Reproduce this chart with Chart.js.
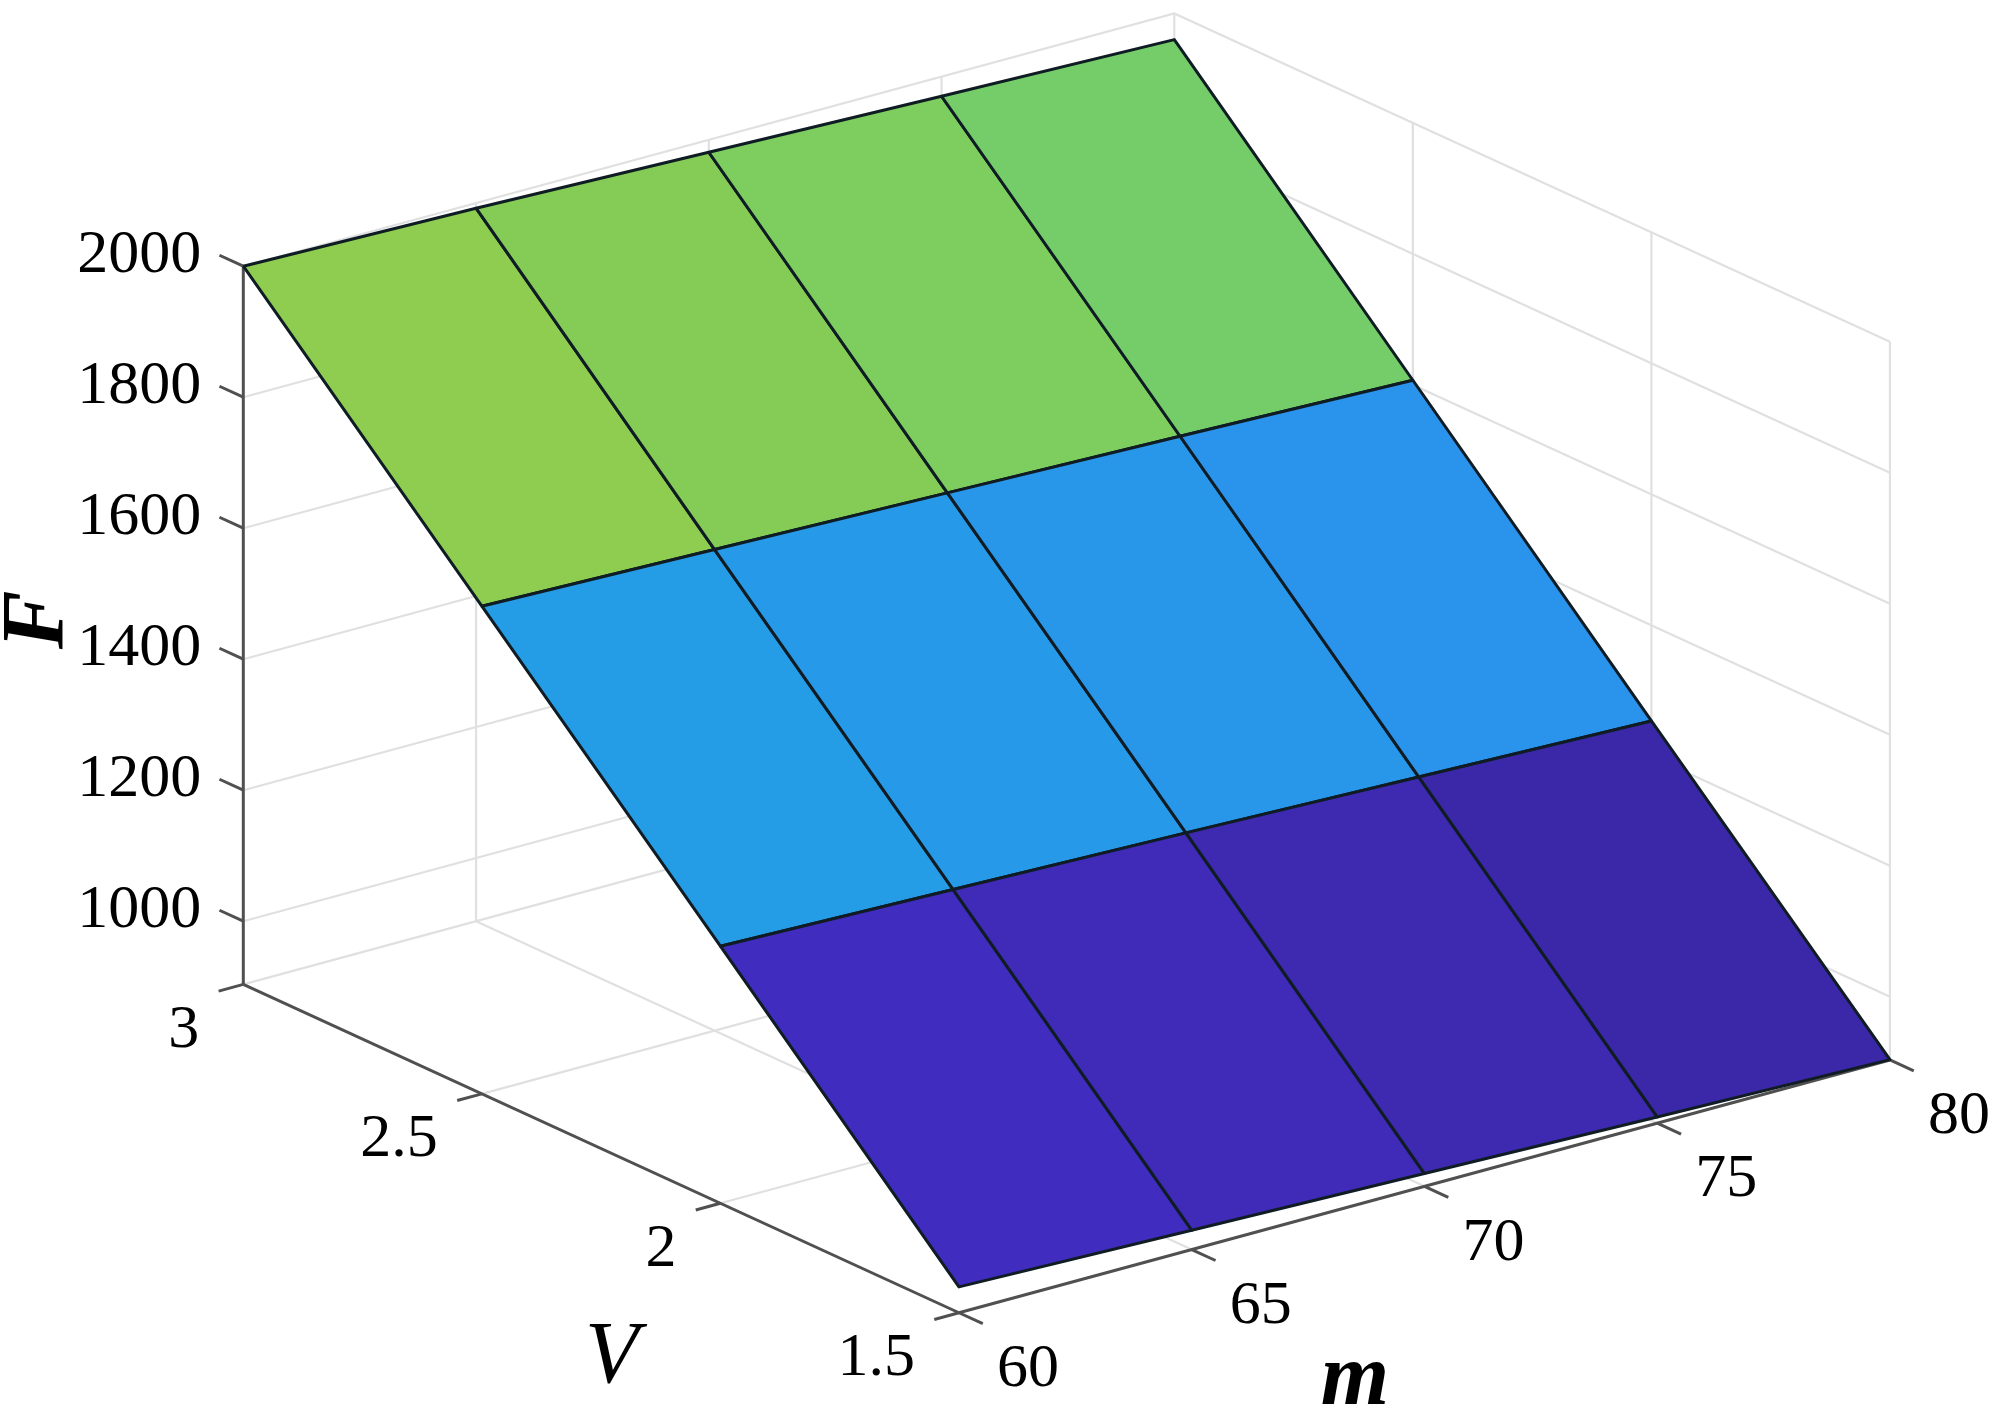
<!DOCTYPE html>
<html>
<head>
<meta charset="utf-8">
<title>F over m and V</title>
<script src="https://cdn.jsdelivr.net/npm/chart.js@4"></script>
<style>
html, body { margin: 0; padding: 0; background: #fff; }
#wrap { width: 2000px; height: 1408px; }
</style>
</head>
<body>
<div id="wrap"><canvas id="myChart"></canvas></div>
<script>
// surface samples
const mValues = [60, 65, 70, 75, 80]
const vValues = [3, 2.5, 2, 1.5]
const fAtV3 = [2000, 1992, 1981, 1970, 1960]
const fAtV25 = [1648, 1638, 1628, 1618, 1607]
const fAtV2 = [1296, 1286, 1276, 1265, 1254]
const fAtV15 = [943, 933, 923, 913, 904]
const fRows = [fAtV3, fAtV25, fAtV2, fAtV15]

// axis ticks
const fTicks = [1000, 1200, 1400, 1600, 1800, 2000]
const vTicks = [3, 2.5, 2, 1.5]
const mTicks = [60, 65, 70, 75, 80]
const vTickLabels = ['3', '2.5', '2', '1.5']
const fMin = 903.5
const fMax = 2000

// face colours, one row per V band
const colorsTop = ['#8ecd50', '#85cc57', '#7dcd5f', '#74cd69']
const colorsMid = ['#259de6', '#269ae8', '#2897ea', '#2a93ec']
const colorsLow = ['#402cbe', '#3f2bb8', '#3d2ab0', '#3b28a8']
const faceColors = [colorsTop, colorsMid, colorsLow]

// fixed view of the box: where (m=60, V=3, F=fMin) lands and the step per data unit
const view = { x0: 243.3, y0: 984.4, mx: 46.55, my: -12.64, vx: 477.1, vy: 218.9, fy: -0.655 }

function project(m, v, f) {
    return {
        x: view.x0 + (m - 60) * view.mx + (3 - v) * view.vx,
        y: view.y0 + (m - 60) * view.my + (3 - v) * view.vy + (f - fMin) * view.fy
    }
}

const GRID = '#e0e0e0'
const AXIS = '#505050'
const EDGE = '#101c24'

const datasets = []

function addLine(points, color, width) {
    datasets.push({
        data: points,
        showLine: true,
        fill: false,
        borderColor: color,
        borderWidth: width,
        pointRadius: 0,
        tension: 0,
        order: -datasets.length
    })
}

// grid on the two back walls
fTicks.forEach(function (f) {
    addLine([project(60, 3, f), project(80, 3, f), project(80, 1.5, f)], GRID, 2.2)
})
mTicks.slice(1).forEach(function (m) {
    addLine([project(m, 3, fMin), project(m, 3, fMax)], GRID, 2.2)
})
vTicks.slice(1).forEach(function (v) {
    addLine([project(80, v, fMin), project(80, v, fMax)], GRID, 2.2)
})
// grid on the floor
vTicks.slice(0, -1).forEach(function (v) {
    addLine([project(60, v, fMin), project(80, v, fMin)], GRID, 2.2)
})
mTicks.slice(1).forEach(function (m) {
    addLine([project(m, 3, fMin), project(m, 1.5, fMin)], GRID, 2.2)
})

// axis lines and tick marks
addLine([project(60, 3, fMin), project(60, 3, fMax)], AXIS, 3)
addLine([project(60, 3, fMin), project(60, 1.5, fMin)], AXIS, 3)
addLine([project(60, 1.5, fMin), project(80, 1.5, fMin)], AXIS, 3)
fTicks.forEach(function (f) {
    addLine([project(60, 3, f), project(60, 3.05, f)], AXIS, 3)
})
vTicks.forEach(function (v) {
    addLine([project(60, v, fMin), project(59.47, v, fMin)], AXIS, 3)
})
mTicks.forEach(function (m) {
    addLine([project(m, 1.5, fMin), project(m, 1.45, fMin)], AXIS, 3)
})

// surface faces
for (let r = 0; r < vValues.length - 1; r++) {
    for (let c = 0; c < mValues.length - 1; c++) {
        const a = project(mValues[c], vValues[r], fRows[r][c])
        const b = project(mValues[c + 1], vValues[r], fRows[r][c + 1])
        const d = project(mValues[c + 1], vValues[r + 1], fRows[r + 1][c + 1])
        const e = project(mValues[c], vValues[r + 1], fRows[r + 1][c])
        datasets.push({
            data: [a, b, d, e, a],
            showLine: true,
            fill: 'shape',
            backgroundColor: faceColors[r][c],
            borderColor: EDGE,
            borderWidth: 3,
            borderJoinStyle: 'round',
            pointRadius: 0,
            tension: 0,
            order: -datasets.length
        })
    }
}

// tick labels and axis titles, anchored on the scales
const boxLabels = {
    id: 'boxLabels',
    afterDraw: function (chart) {
        const ctx = chart.ctx
        const sx = chart.scales.x
        const sy = chart.scales.y
        const SERIF = '"Liberation Serif", "Times New Roman", serif'

        function put(text, p, dx, dy, align) {
            ctx.textAlign = align
            ctx.fillText(text, sx.getPixelForValue(p.x) + dx, sy.getPixelForValue(p.y) + dy)
        }

        ctx.save()
        ctx.fillStyle = '#000'
        ctx.textBaseline = 'middle'
        ctx.font = '62px ' + SERIF
        fTicks.forEach(function (f) {
            put(String(f), project(60, 3, f), -42, -10, 'right')
        })
        vTicks.forEach(function (v, i) {
            put(vTickLabels[i], project(60, v, fMin), -44, 46, 'right')
        })
        mTicks.forEach(function (m) {
            put(String(m), project(m, 1.5, fMin), 69, 57, 'center')
        })

        ctx.font = 'italic 88px ' + SERIF
        put('V', { x: 612, y: 1356 }, 0, 3, 'center')
        ctx.font = 'italic bold 88px ' + SERIF
        put('m', { x: 1355, y: 1378 }, 0, 3, 'center')
        ctx.translate(sx.getPixelForValue(36), sy.getPixelForValue(620))
        ctx.rotate(-Math.PI / 2)
        ctx.textAlign = 'center'
        ctx.fillText('F', 0, 3)
        ctx.restore()
    }
}

const ctx = document.getElementById('myChart').getContext('2d')
const chart = new Chart(ctx, {
    type: 'scatter',
    data: { datasets: datasets },
    plugins: [boxLabels],
    options: {
        responsive: true,
        maintainAspectRatio: false,
        animation: false,
        layout: { padding: 0 },
        plugins: { legend: { display: false }, tooltip: { enabled: false } },
        scales: {
            x: { type: 'linear', display: false, min: 0, max: 2000 },
            y: { type: 'linear', display: false, min: 0, max: 1408, reverse: true }
        }
    }
})
</script>
</body>
</html>
